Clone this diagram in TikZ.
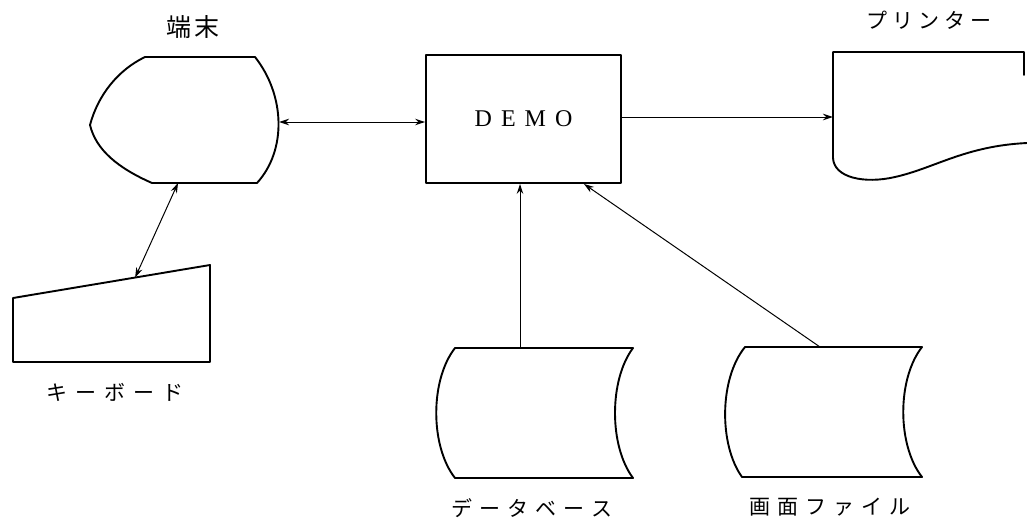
\documentclass[tikz,border=0pt]{standalone}
\usepackage{fontspec}
\setmainfont{Liberation Serif}
\newfontfamily\jpfont{Noto Sans CJK JP}
\usetikzlibrary{arrows.meta,calc}
\newcommand\kgap[1]{\hskip#1pt\relax}
\begin{document}
\begin{tikzpicture}[x=1pt,y=-1pt,
  outline/.style={line width=1.9pt, line join=round, line cap=round},
  link/.style={line width=1pt},
  onehead/.style={-{Stealth[length=10pt,width=6.5pt]}},
  twohead/.style={{Stealth[length=10pt,width=6.5pt]}-{Stealth[length=10pt,width=6.5pt]}},
  jlabel/.style={font=\jpfont\fontsize{21}{21}\selectfont, inner sep=0pt}]
\useasboundingbox (0,0) rectangle (1027,520);

% terminal (display) symbol
\draw[outline] (145,57) -- (255,57)
  .. controls (285,95) and (287,150) .. (257,183) -- (152,183)
  .. controls (118,168) and (96,150) .. (90,125)
  .. controls (98,95) and (118,70) .. cycle;
\coordinate (termR) at (279,122);
\coordinate (termB) at (178,183);
\node[jlabel, font=\jpfont\fontsize{25}{25}\selectfont] (termlbl) at (193,27) {端\kgap{3}末};

% keyboard (manual input) symbol
\coordinate (kbTL) at (13,298);
\coordinate (kbTR) at (210,265);
\draw[outline] (kbTL) -- (kbTR) -- (210,362) -- (13,362) -- cycle;
\coordinate (kbIn) at ($(kbTL)!0.62!(kbTR)$);
\node[jlabel] (kblbl) at (115,392) {キ\kgap{8}ー\kgap{8}ボ\kgap{8}ー\kgap{8}ド};

% central process
\node[draw, outline, minimum width=195pt, minimum height=128pt, inner sep=0pt,
  font=\fontsize{24}{24}\selectfont] (demo) at (523.5,119)
  {D\kgap{9}E\kgap{9}M\kgap{9}O};

% printer (document) symbol
\draw[outline] (1024,75) -- (1024,52) -- (833,52) -- (833,158)
  .. controls (834,178) and (865,184) .. (895,177)
  .. controls (935,168) and (965,146) .. (1027,143);
\coordinate (prL) at (833,117);
\node[jlabel] (prlbl) at (929,20) {プ\kgap{5}リ\kgap{5}ン\kgap{5}タ\kgap{5}ー};

% database (stored data) symbol
\draw[outline] (455,348) -- (633,348)
  .. controls (609,380) and (609,446) .. (633,478) -- (455,478)
  .. controls (430,446) and (430,380) .. cycle;
\coordinate (dbT) at (520,348);
\node[jlabel] (dblbl) at (532,508) {デ\kgap{7}ー\kgap{7}タ\kgap{7}ベ\kgap{7}ー\kgap{7}ス};

% screen file (stored data) symbol
\draw[outline] (745,347) -- (922,347)
  .. controls (897,379) and (897,445) .. (922,477) -- (742,477)
  .. controls (719,445) and (719,379) .. cycle;
\coordinate (fileT) at (820,347);
\node[jlabel] (filelbl) at (830,507) {画\kgap{7}面\kgap{7}フ\kgap{7}ァ\kgap{7}イ\kgap{7}ル};

% connectors
\draw[link, twohead] (termR) -- (termR -| demo.west);
\draw[link, twohead] (termB) -- (kbIn);
\draw[link, onehead] (prL -| demo.east) -- (prL);
\draw[link, onehead] (dbT) -- (dbT |- demo.south);
\draw[link, onehead] (fileT) -- ($(demo.south west)!0.807!(demo.south east)$);
\end{tikzpicture}
\end{document}
